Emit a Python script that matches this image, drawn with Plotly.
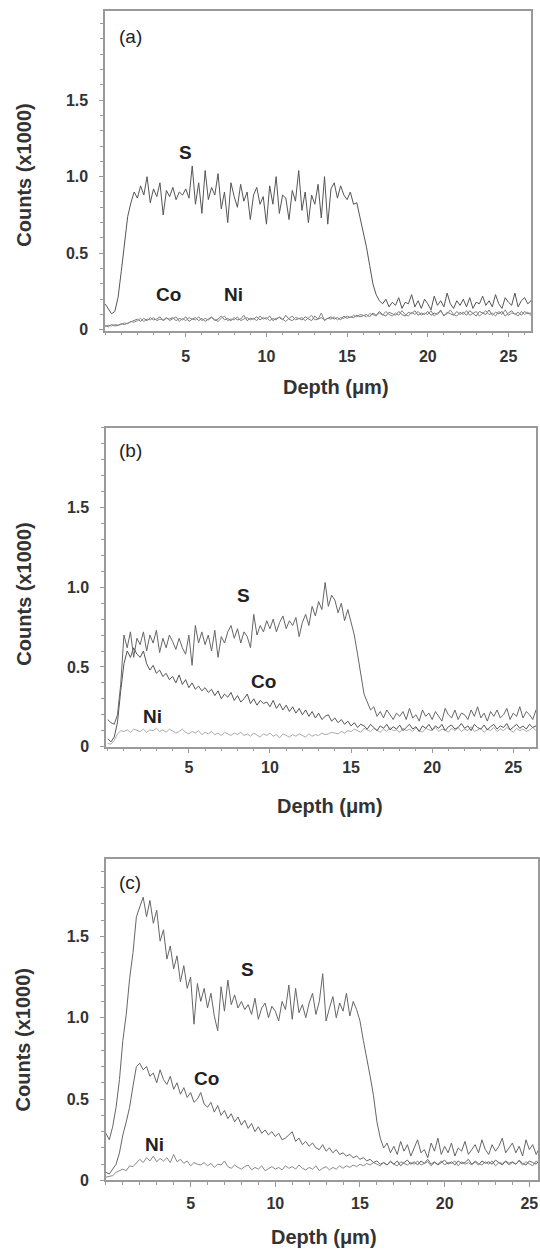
import numpy as np
import plotly.graph_objects as go

# depth grid (µm), 0.2 µm step
DEPTH = np.round(np.arange(0, 26.81, 0.2), 1)

# ---------- panel (a) counts ----------
A_S = [170, 140, 105, 120, 210, 380, 560, 740, 830, 900,
       860, 940, 880, 1000, 830, 920, 870, 960, 750, 910,
       870, 930, 850, 900, 880, 920, 860, 1070, 820, 960,
       760, 1040, 850, 930, 880, 1020, 790, 900, 700, 960,
       870, 800, 950, 840, 900, 720, 880, 930, 820, 870,
       690, 940, 820, 1000, 760, 880, 860, 720, 910, 840,
       1040, 780, 900, 700, 880, 820, 950, 730, 1000, 690,
       920, 960, 860, 940, 880, 850, 900, 820, 830, 740,
       640, 540, 420, 300, 230, 190, 170, 200, 150, 180,
       160, 210, 140, 180, 170, 230, 150, 190, 140, 200,
       170, 130, 220, 160, 190, 150, 240, 170, 140, 190,
       160, 200, 150, 210, 140, 180, 170, 220, 160, 190,
       150, 230, 170, 140, 210, 180, 160, 240, 150, 190,
       210, 170, 190, 160, 200]
A_CO = [30, 20, 35, 25, 30, 40, 35, 45, 50, 60,
        70, 55, 75, 60, 80, 65, 70, 85, 60, 75,
        70, 80, 60, 75, 65, 85, 55, 70, 80, 60,
        75, 55, 70, 85, 60, 70, 90, 65, 75, 60,
        80, 65, 70, 95, 60, 75, 70, 85, 65, 80,
        70, 90, 60, 75, 80, 65, 95, 70, 60, 80,
        75, 65, 85, 70, 60, 90, 70, 80, 65, 75,
        85, 70, 80, 65, 90, 75, 85, 80, 95, 85,
        90, 100, 85, 110, 95, 120, 100, 90, 115, 105,
        95, 120, 100, 90, 115, 105, 125, 95, 110, 100,
        120, 95, 110, 100, 130, 90, 115, 105, 95, 120,
        100, 115, 95, 125, 105, 90, 120, 110, 100, 130,
        95, 115, 105, 120, 90, 110, 125, 100, 115, 95,
        120, 105, 110, 95, 115]
A_NI = [20, 30, 25, 35, 30, 35, 45, 40, 55, 50,
        60, 75, 55, 70, 65, 80, 60, 70, 65, 80,
        60, 70, 85, 55, 75, 60, 80, 70, 65, 85,
        60, 75, 65, 80, 70, 55, 75, 90, 60, 70,
        65, 85, 60, 70, 80, 65, 75, 60, 90, 70,
        80, 60, 75, 65, 85, 70, 55, 75, 90, 65,
        70, 80, 60, 75, 95, 65, 70, 110, 60, 75,
        70, 85, 65, 80, 75, 90, 80, 95, 85, 100,
        95, 85, 105, 100, 90, 110, 95, 120, 100, 90,
        110, 95, 125, 100, 90, 115, 100, 120, 95, 110,
        100, 125, 90, 110, 120, 95, 105, 130, 100, 90,
        115, 100, 125, 95, 110, 120, 90, 105, 125, 100,
        110, 90, 120, 100, 130, 95, 110, 105, 90, 120,
        100, 115, 95, 120, 105]

# ---------- panel (b) counts ----------
B_S = [170, 150, 140, 200, 390, 700, 620, 720, 560, 680,
       640, 720, 600, 700, 650, 730, 590, 680, 620, 700,
       660, 610, 680, 620, 580, 700, 510, 760, 650, 720,
       640, 700, 600, 730, 560, 690, 650, 720, 760, 680,
       740, 650, 720, 690, 620, 830, 700, 760, 720, 790,
       740, 800, 720, 780, 820, 740, 790, 760, 810, 690,
       780, 830, 760, 880, 820, 910, 860, 1030, 880, 950,
       920, 840, 900, 790, 860, 780, 700, 580, 450, 330,
       280, 230, 250, 190, 220, 180, 230, 200, 170, 210,
       190, 220, 170, 240, 180, 200, 160, 230, 190, 210,
       170, 220, 190, 160, 240, 200, 180, 230, 170, 210,
       200, 170, 230, 190, 250, 180, 210, 160, 220, 190,
       230, 180, 200, 240, 170, 210, 190, 250, 180, 220,
       200, 170, 230, 190, 210]
B_CO = [50, 30, 60, 150, 350, 520, 600, 560, 620, 580,
        560, 600, 520, 480, 510, 460, 480, 440, 460, 420,
        440, 400, 450, 390, 420, 370, 400, 360, 380, 350,
        370, 340, 360, 320, 350, 300, 330, 310, 340, 290,
        320, 280, 300, 330, 270, 300, 260, 290, 270, 280,
        250, 290, 240, 270, 230, 260, 220, 250, 210, 240,
        200, 230, 190, 220, 180, 210, 170, 190, 200, 160,
        180, 150, 170, 140, 160, 130, 150, 120, 140, 130,
        110, 140, 120, 100, 130, 115, 140, 105, 125, 110,
        135, 100, 120, 140, 110, 125, 95, 130, 115, 140,
        105, 130, 115, 140, 100, 125, 135, 110, 120, 145,
        115, 130, 100, 140, 120, 110, 135, 105, 125, 140,
        110, 130, 120, 145, 105, 125, 140, 115, 130, 110,
        140, 120, 130, 110, 135]
B_NI = [20, 15, 40, 80, 100, 95, 105, 90, 110, 100,
        95, 110, 90, 105, 100, 115, 95, 105, 90, 110,
        100, 85, 95, 110, 90, 80, 95, 85, 100, 75,
        90, 80, 95, 75, 85, 70, 90, 80, 70, 85,
        75, 90, 70, 80, 65, 85, 75, 60, 80, 70,
        85, 65, 75, 55, 80, 70, 60, 75, 65, 80,
        70, 60, 80, 65, 75, 70, 85, 75, 80, 90,
        85, 80, 95, 85, 100, 95, 110, 100, 90, 115,
        105, 95, 115, 100, 90, 110, 95, 120, 100, 105,
        90, 115, 100, 110, 95, 120, 100, 90, 115, 105,
        100, 120, 95, 110, 105, 90, 115, 100, 120, 95,
        110, 100, 125, 95, 105, 115, 90, 110, 100, 120,
        95, 110, 100, 120, 105, 90, 115, 100, 110, 95,
        105, 120, 100, 115, 95]

# ---------- panel (c) counts ----------
C_S = [290, 250, 330, 450, 620, 860, 1020, 1240, 1400, 1620,
       1680, 1740, 1620, 1720, 1580, 1660, 1470, 1540, 1360, 1440,
       1300, 1380, 1220, 1320, 1180, 1250, 960, 1210, 1100, 1180,
       1060, 1150, 1010, 920, 1190, 1040, 1230, 1080, 1140, 1060,
       1100, 1050, 1080, 1020, 1120, 990, 1060, 1090, 1000, 1070,
       1040, 980, 1100, 1050, 1200, 990, 1180, 1030, 1080, 1000,
       1090, 1150, 1020, 1100, 1270, 980, 1060, 1130, 1000, 1090,
       1040, 1150, 1010, 1100, 1050, 980, 860, 760, 640, 520,
       360, 260, 200, 230, 170, 210, 160, 240, 180, 220,
       150, 200, 250, 170, 190, 140, 230, 180, 260, 160,
       210, 170, 230, 150, 200, 180, 240, 160, 190, 220,
       170, 250, 190, 160, 220, 180, 210, 260, 170, 200,
       230, 170, 210, 150, 250, 190, 220, 160, 200, 240,
       180, 210, 160, 230, 190]
C_CO = [50, 40, 70, 100, 170, 280, 360, 450, 580, 700,
        720, 680, 700, 640, 660, 600, 680, 620, 590, 640,
        560, 600, 530, 570, 510, 540, 480, 500, 540, 470,
        450, 480, 420, 460, 400, 430, 380, 410, 360, 390,
        340, 370, 320, 350, 300, 330, 290, 310, 280, 300,
        270, 290, 250, 260, 280, 300, 240, 260, 220, 240,
        210, 230, 200, 190, 220, 180, 200, 170, 190, 160,
        170, 150, 160, 140, 150, 130, 140, 120, 130, 110,
        120, 100, 110, 95, 115, 100, 120, 90, 110, 125,
        100, 115, 95, 120, 105, 130, 100, 115, 95, 110,
        125, 100, 115, 95, 120, 105, 110, 130, 100, 115,
        95, 120, 105, 115, 100, 125, 110, 95, 120, 105,
        115, 100, 125, 105, 95, 120, 110, 100, 125, 105,
        110, 95, 120, 105, 115]
C_NI = [20, 25, 30, 50, 60, 70, 60, 90, 85, 110,
        130, 110, 140, 120, 150, 115, 135, 120, 140, 110,
        160, 115, 130, 105, 120, 90, 110, 100, 95, 110,
        90, 105, 80, 100, 95, 120, 85, 75, 95, 80,
        70, 85, 95, 65, 80, 70, 90, 60, 75, 85,
        70, 80, 65, 90, 75, 85, 70, 95, 75, 65,
        80, 70, 90, 60, 75, 85, 65, 80, 70, 90,
        75, 90, 80, 95, 85, 100, 90, 105, 95, 110,
        100, 90, 110, 95, 120, 100, 90, 115, 105, 95,
        110, 100, 120, 95, 105, 115, 90, 110, 100, 120,
        95, 110, 105, 120, 90, 115, 100, 110, 95, 120,
        105, 95, 115, 100, 120, 90, 110, 105, 115, 95,
        110, 100, 120, 95, 115, 105, 90, 120, 100, 110,
        95, 115, 105, 100, 120]

X_TICKS = [5, 10, 15, 20, 25]
Y_TICKS = [0, 0.5, 1.0, 1.5]
Y_TICK_TEXT = ["0", "0.5", "1.0", "1.5"]

W, H = 540, 1256
FONT = "Liberation Sans, Arial, sans-serif"

panels = [
    dict(l=105.5, r=533, t=11, b=333, xr=[0, 26.4], yr=[-0.005, 2.082],
         series=[(A_CO, "#777777"), (A_NI, "#888888"), (A_S, "#555555")],
         labels=[("S", 5.0, 1.16), ("Co", 3.93, 0.23), ("Ni", 7.93, 0.23)],
         tag=("(a)", 1.6, 1.915), ytitle_y=176, xtitle=(337, 390), xstand=5),
    dict(l=106.5, r=538, t=431, b=752, xr=[-0.1, 26.4], yr=[0.0, 2.0],
         series=[(B_NI, "#aaaaaa"), (B_CO, "#555555"), (B_S, "#666666")],
         labels=[("S", 8.35, 0.947), ("Co", 9.62, 0.407), ("Ni", 2.74, 0.19)],
         tag=("(b)", 1.41, 1.86), ytitle_y=598, xtitle=(331, 812), xstand=0),
    dict(l=106.3, r=540, t=865, b=1189, xr=[0, 25.51], yr=[0.0, 1.976],
         series=[(C_NI, "#888888"), (C_CO, "#666666"), (C_S, "#666666")],
         labels=[("S", 8.35, 1.295), ("Co", 5.92, 0.624), ("Ni", 2.85, 0.224)],
         tag=("(c)", 1.43, 1.83), ytitle_y=1047, xtitle=(325, 1246), xstand=3),
]

fig = go.Figure()
annotations = []
for i, p in enumerate(panels):
    n = "" if i == 0 else str(i + 1)
    xa, ya = "x" + n, "y" + n
    for vals, col in p["series"]:
        fig.add_trace(go.Scatter(
            x=DEPTH[:len(vals)], y=np.array(vals) / 1000.0, mode="lines",
            line=dict(color=col, width=1.0), xaxis=xa, yaxis=ya,
            showlegend=False, hoverinfo="skip"))
    xdom = [p["l"] / W, p["r"] / W]
    ydom = [1 - p["b"] / H, 1 - p["t"] / H]
    axis_common = dict(showline=True, mirror=True, linecolor="#9a9a9a",
                       linewidth=1.5, ticks="outside", tickcolor="#9a9a9a",
                       showgrid=False, zeroline=False,
                       tickfont=dict(family=FONT, size=16, color="#333333"))
    fig.layout["xaxis" + n] = dict(
        domain=xdom, range=p["xr"], anchor=ya, tickmode="array",
        tickvals=X_TICKS, ticktext=["<b>%d</b>" % v for v in X_TICKS],
        ticklen=5, ticklabelstandoff=p["xstand"],
        minor=dict(dtick=1, tick0=0, ticks="outside", ticklen=3,
                   tickcolor="#9a9a9a"),
        **axis_common)
    fig.layout["yaxis" + n] = dict(
        domain=ydom, range=p["yr"], anchor=xa, tickmode="array",
        tickvals=Y_TICKS, ticktext=["<b>%s</b>" % t for t in Y_TICK_TEXT],
        ticklen=4, ticklabelstandoff=8,
        minor=dict(dtick=0.1, tick0=0, ticks="outside", ticklen=3,
                   tickcolor="#9a9a9a"),
        **axis_common)
    for txt, lx, ly in p["labels"]:
        annotations.append(dict(x=lx, y=ly, xref=xa, yref=ya, text="<b>%s</b>" % txt,
                                xanchor="center", yanchor="middle", showarrow=False,
                                font=dict(family=FONT, size=19, color="#222222")))
    t, tx, ty = p["tag"]
    annotations.append(dict(x=tx, y=ty, xref=xa, yref=ya, text=t, showarrow=False,
                            xanchor="center", yanchor="middle",
                            font=dict(family=FONT, size=19, color="#222222")))
    annotations.append(dict(x=24 / W, y=1 - p["ytitle_y"] / H, xref="paper", yref="paper",
                            text="<b>Counts (x1000)</b>", textangle=-90, showarrow=False,
                            xanchor="center", yanchor="middle",
                            font=dict(family=FONT, size=20, color="#333333")))
    annotations.append(dict(x=p["xtitle"][0] / W, y=1 - p["xtitle"][1] / H,
                            xref="paper", yref="paper",
                            text="<b>Depth (\u03bcm)</b>", showarrow=False,
                            xanchor="center", yanchor="middle",
                            font=dict(family=FONT, size=20, color="#333333")))

fig.update_layout(width=W, height=H, margin=dict(l=0, r=0, t=0, b=0),
                  paper_bgcolor="white", plot_bgcolor="white",
                  annotations=annotations)
fig.write_html("out.html")
